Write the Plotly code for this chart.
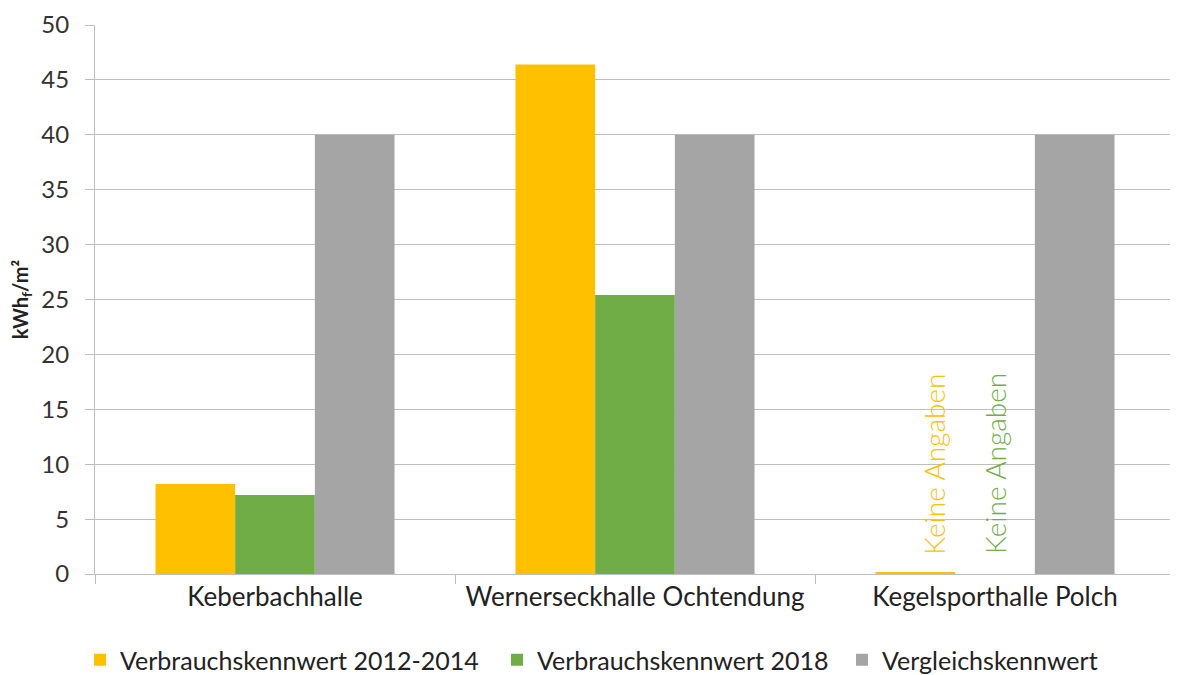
import plotly.graph_objects as go

categories = ["Keberbachhalle", "Wernerseckhalle Ochtendung", "Kegelsporthalle Polch"]
series_names = ["Verbrauchskennwert 2012-2014", "Verbrauchskennwert 2018", "Vergleichskennwert"]
v_2012_2014 = [8.2, 46.4, 0.1]
v_2018 = [7.2, 25.4, 0.0]
v_vergleich = [40, 40, 40]
colors = ["#FFC000", "#70AD47", "#A5A5A5"]
no_data_label = "Keine Angaben"

FONT = "Lato"
W, H = 1170, 667

fig = go.Figure()
legends = ["legend", "legend2", "legend3"]
for name, vals, col, lg in zip(series_names, [v_2012_2014, v_2018, v_vergleich], colors, legends):
    fig.add_trace(go.Bar(x=categories, y=vals, name=name, marker=dict(color=col, line=dict(width=0)),
                         legend=lg, showlegend=True))

# "Keine Angaben" labels for the third category
for dx, col in [(-0.17, colors[0]), (0.0, colors[1])]:
    fig.add_annotation(x=2 + dx, y=1.6, xref="x", yref="y", text=no_data_label, textangle=-90,
                       showarrow=False, yanchor="bottom",
                       font=dict(color=col, size=28, family=FONT, weight=300))

def leg(x):
    return dict(orientation="h", yanchor="middle", y=(H - 652) / H, yref="container",
                xanchor="left", x=x / W, xref="container",
                font=dict(family=FONT, size=25, color="#222"), bgcolor="rgba(0,0,0,0)",
                itemwidth=30, traceorder="normal")

fig.update_layout(
    width=W, height=H,
    paper_bgcolor="white", plot_bgcolor="white",
    margin=dict(l=87, r=3, t=17, b=101, autoexpand=False),
    barmode="group", bargap=0.336, bargroupgap=0,
    font=dict(family=FONT, color="#222"),
    legend=leg(72),
    legend2=leg(489),
    legend3=leg(834),
    xaxis=dict(showline=True, linecolor="#BFBFBF", linewidth=1, ticks="outside", tickson="boundaries",
               tickcolor="#BFBFBF", ticklen=9, automargin=False, ticklabeloverflow="allow",
               tickfont=dict(size=26, family=FONT, color="#222")),
    yaxis=dict(range=[0, 50], dtick=5, showgrid=True, gridcolor="#BFBFBF", gridwidth=1, automargin=False,
               showline=True, linecolor="#BFBFBF", ticks="outside", tickcolor="#BFBFBF", ticklen=9,
               ticklabelstandoff=11, ticklabeloverflow="allow",
               tickfont=dict(size=24, family=FONT, color="#333"), zeroline=False,
               title=dict(text="<b>kWh<sub>f</sub>/m²</b>", font=dict(size=20, family=FONT, color="#222"),
                          standoff=10)),
)
fig.write_html("out.html")
